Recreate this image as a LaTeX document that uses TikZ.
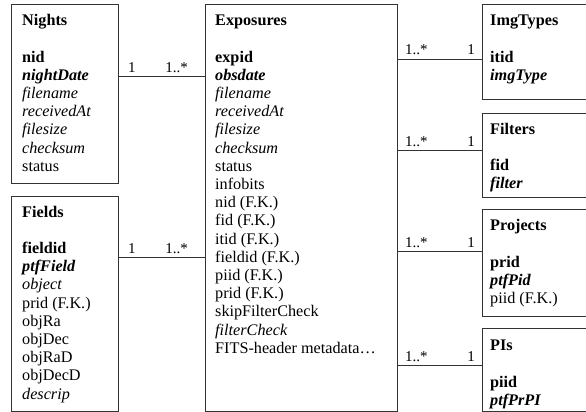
\documentclass[tikz,border=0pt]{standalone}
\usepackage{fontspec}
\setmainfont{Liberation Serif}
\begin{document}
\begin{tikzpicture}[x=1pt,y=1pt,
  box/.style={draw=black!80, line width=0.9pt, anchor=north west, inner sep=0pt, rectangle},
  txt/.style={anchor=north west, inner sep=0pt, align=left, font=\fontsize{16.2}{18.2}\selectfont},
  conn/.style={draw=black!80, line width=0.9pt},
  lbl/.style={anchor=base, inner sep=0pt, yshift=4pt, font=\fontsize{15}{18}\selectfont}]
\useasboundingbox (0,0) rectangle (586,-412);
\clip (0,0) rectangle (586,-412);
% boxes
\node[box, minimum width=107, minimum height=178.5] (nights) at (11,-4.5) {};
\node[box, minimum width=107, minimum height=215] (fields) at (11,-196) {};
\node[box, minimum width=192, minimum height=406.5] (expo) at (205,-4.5) {};
\node[box, minimum width=120, minimum height=94.5] (imgt) at (482,-4.5) {};
\node[box, minimum width=120, minimum height=84] (filt) at (482,-113) {};
\node[box, minimum width=120, minimum height=107] (proj) at (482,-209) {};
\node[box, minimum width=120, minimum height=83] (pis) at (482,-328) {};
% texts
\node[txt] (nightsT) at (22,-12.8) {\strut\textbf{Nights}\\ \strut\\
  \strut\textbf{nid}\\ \strut\textbf{\textit{nightDate}}\\ \strut\textit{filename}\\
  \strut\textit{receivedAt}\\ \strut\textit{filesize}\\ \strut\textit{checksum}\\ \strut status};
\node[txt] (fieldsT) at (22,-204.1) {\strut\textbf{Fields}\\ \strut\\
  \strut\textbf{fieldid}\\ \strut\textbf{\textit{ptfField}}\\ \strut\textit{object}\\
  \strut prid (F.K.)\\ \strut objRa\\ \strut objDec\\ \strut objRaD\\ \strut objDecD\\ \strut\textit{descrip}};
\node[txt] (expoT) at (215,-12.8) {\strut\textbf{Exposures}\\ \strut\\
  \strut\textbf{expid}\\ \strut\textbf{\textit{obsdate}}\\ \strut\textit{filename}\\
  \strut\textit{receivedAt}\\ \strut\textit{filesize}\\ \strut\textit{checksum}\\
  \strut status\\ \strut infobits\\ \strut nid (F.K.)\\ \strut fid (F.K.)\\ \strut itid (F.K.)\\
  \strut fieldid (F.K.)\\ \strut piid (F.K.)\\ \strut prid (F.K.)\\ \strut skipFilterCheck\\
  \strut\textit{filterCheck}\\ \strut FITS-header metadata\ldots};
\node[txt] (imgtT) at (490,-12.8) {\strut\textbf{ImgTypes}\\ \strut\\
  \strut\textbf{itid}\\ \strut\textbf{\textit{imgType}}};
\node[txt] (filtT) at (490,-121.3) {\strut\textbf{Filters}\\ \strut\\
  \strut\textbf{fid}\\ \strut\textbf{\textit{filter}}};
\node[txt] (projT) at (490,-217.8) {\strut\textbf{Projects}\\ \strut\\
  \strut\textbf{prid}\\ \strut\textbf{\textit{ptfPid}}\\ \strut piid (F.K.)};
\node[txt] (pisT) at (490,-337.8) {\strut\textbf{PIs}\\ \strut\\
  \strut\textbf{piid}\\ \strut\textbf{\textit{ptfPrPI}}};
% connectors
\draw[conn] (nights.east |- 0,-76) -- (expo.west |- 0,-76)
  node[lbl, pos=0.15] {1} node[lbl, pos=0.67] {1..*};
\draw[conn] (fields.east |- 0,-257) -- (expo.west |- 0,-257)
  node[lbl, pos=0.15] {1} node[lbl, pos=0.67] {1..*};
\draw[conn] (expo.east |- 0,-59) -- (imgt.west |- 0,-59)
  node[lbl, pos=0.22] {1..*} node[lbl, pos=0.87] {1};
\draw[conn] (expo.east |- 0,-150) -- (filt.west |- 0,-150)
  node[lbl, pos=0.22] {1..*} node[lbl, pos=0.87] {1};
\draw[conn] (expo.east |- 0,-251) -- (proj.west |- 0,-251)
  node[lbl, pos=0.22] {1..*} node[lbl, pos=0.87] {1};
\draw[conn] (expo.east |- 0,-365) -- (pis.west |- 0,-365)
  node[lbl, pos=0.22] {1..*} node[lbl, pos=0.87] {1};
\end{tikzpicture}
\end{document}
